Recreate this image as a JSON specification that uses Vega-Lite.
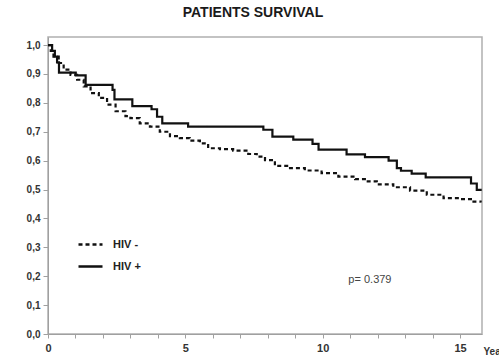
{
  "$schema": "https://vega.github.io/schema/vega-lite/v6.json",
  "width": 434,
  "height": 297,
  "autosize": "none",
  "padding": {"left": 48, "top": 37, "right": 17, "bottom": 24},
  "background": "white",
  "title": {"text": "PATIENTS SURVIVAL", "fontSize": 14, "font": "Liberation Sans", "fontWeight": "bold", "color": "#1a1a1a", "anchor": "middle", "dx": -12, "offset": 17},
  "config": {
    "view": {"stroke": "#b0b0b0", "strokeWidth": 1.5},
    "axis": {"grid": false, "domainColor": "#a0a0a0", "tickColor": "#a0a0a0", "labelFont": "Liberation Sans", "labelFontWeight": "bold", "labelColor": "#333333", "labelFontSize": 10, "labelOverlap": false}
  },
  "datasets": {
    "km": [
      {"group": "HIV +", "t": 0, "s": 1.0},
      {"group": "HIV +", "t": 0.15, "s": 0.98},
      {"group": "HIV +", "t": 0.25, "s": 0.96},
      {"group": "HIV +", "t": 0.33, "s": 0.94},
      {"group": "HIV +", "t": 0.4, "s": 0.905},
      {"group": "HIV +", "t": 1.01, "s": 0.895},
      {"group": "HIV +", "t": 1.37, "s": 0.862},
      {"group": "HIV +", "t": 2.35, "s": 0.845},
      {"group": "HIV +", "t": 2.42, "s": 0.812},
      {"group": "HIV +", "t": 3.07, "s": 0.789},
      {"group": "HIV +", "t": 3.77, "s": 0.778},
      {"group": "HIV +", "t": 3.97, "s": 0.752},
      {"group": "HIV +", "t": 4.16, "s": 0.729},
      {"group": "HIV +", "t": 5.1, "s": 0.718},
      {"group": "HIV +", "t": 7.84, "s": 0.707},
      {"group": "HIV +", "t": 8.17, "s": 0.683},
      {"group": "HIV +", "t": 8.93, "s": 0.673},
      {"group": "HIV +", "t": 9.63, "s": 0.658},
      {"group": "HIV +", "t": 9.85, "s": 0.638},
      {"group": "HIV +", "t": 10.87, "s": 0.622},
      {"group": "HIV +", "t": 11.54, "s": 0.612},
      {"group": "HIV +", "t": 12.4, "s": 0.6},
      {"group": "HIV +", "t": 12.7, "s": 0.574},
      {"group": "HIV +", "t": 12.85, "s": 0.565},
      {"group": "HIV +", "t": 13.24, "s": 0.555},
      {"group": "HIV +", "t": 13.75, "s": 0.542},
      {"group": "HIV +", "t": 15.4, "s": 0.521},
      {"group": "HIV +", "t": 15.61, "s": 0.499},
      {"group": "HIV +", "t": 15.79, "s": 0.499},
      {"group": "HIV -", "t": 0, "s": 1.0},
      {"group": "HIV -", "t": 0.1, "s": 0.98},
      {"group": "HIV -", "t": 0.2, "s": 0.96},
      {"group": "HIV -", "t": 0.39, "s": 0.938},
      {"group": "HIV -", "t": 0.57, "s": 0.915},
      {"group": "HIV -", "t": 0.82, "s": 0.897},
      {"group": "HIV -", "t": 1.06, "s": 0.88},
      {"group": "HIV -", "t": 1.3, "s": 0.857},
      {"group": "HIV -", "t": 1.55, "s": 0.834},
      {"group": "HIV -", "t": 1.85, "s": 0.817},
      {"group": "HIV -", "t": 2.15, "s": 0.794},
      {"group": "HIV -", "t": 2.46, "s": 0.771},
      {"group": "HIV -", "t": 2.82, "s": 0.754},
      {"group": "HIV -", "t": 3.0, "s": 0.747},
      {"group": "HIV -", "t": 3.34, "s": 0.729},
      {"group": "HIV -", "t": 3.71, "s": 0.718},
      {"group": "HIV -", "t": 4.07, "s": 0.7},
      {"group": "HIV -", "t": 4.44, "s": 0.685},
      {"group": "HIV -", "t": 4.8, "s": 0.678},
      {"group": "HIV -", "t": 5.16, "s": 0.669},
      {"group": "HIV -", "t": 5.53, "s": 0.66},
      {"group": "HIV -", "t": 5.83, "s": 0.643},
      {"group": "HIV -", "t": 6.26, "s": 0.64},
      {"group": "HIV -", "t": 6.74, "s": 0.635},
      {"group": "HIV -", "t": 7.29, "s": 0.623},
      {"group": "HIV -", "t": 7.6, "s": 0.614},
      {"group": "HIV -", "t": 7.9, "s": 0.602},
      {"group": "HIV -", "t": 8.26, "s": 0.582},
      {"group": "HIV -", "t": 8.75, "s": 0.574},
      {"group": "HIV -", "t": 9.35, "s": 0.566},
      {"group": "HIV -", "t": 9.96, "s": 0.557},
      {"group": "HIV -", "t": 10.57, "s": 0.545},
      {"group": "HIV -", "t": 11.18, "s": 0.536},
      {"group": "HIV -", "t": 11.6, "s": 0.528},
      {"group": "HIV -", "t": 11.97, "s": 0.518},
      {"group": "HIV -", "t": 12.57, "s": 0.508},
      {"group": "HIV -", "t": 13.18, "s": 0.496},
      {"group": "HIV -", "t": 13.79, "s": 0.482},
      {"group": "HIV -", "t": 14.4, "s": 0.47},
      {"group": "HIV -", "t": 15.0, "s": 0.467},
      {"group": "HIV -", "t": 15.49, "s": 0.458},
      {"group": "HIV -", "t": 15.75, "s": 0.455}
    ],
    "note": [{"t": 11.72, "s": 0.188, "label": "p= 0.379"}]
  },
  "encoding": {
    "x": {"field": "t", "type": "quantitative", "scale": {"domain": [0, 15.8], "nice": false, "zero": false},
      "axis": {"values": [0,1,2,3,4,5,6,7,8,9,10,11,12,13,14,15], "labelExpr": "datum.value % 5 == 0 ? datum.label : ''", "labelOverlap": false, "labelBound": false, "labelFlush": false, "labelFontSize": 11, "labelPadding": 4, "tickSize": 4,
        "title": "Years", "titleFont": "Liberation Sans", "titleFontSize": 10, "titleFontWeight": "bold", "titleColor": "#333333", "titleAlign": "left", "titleAnchor": "start", "titleX": 435, "titleY": 20, "titleBaseline": "alphabetic"}},
    "y": {"field": "s", "type": "quantitative", "scale": {"domain": [0, 1.028], "nice": false},
      "axis": {"values": [0,0.1,0.2,0.3,0.4,0.5,0.6,0.7,0.8,0.9,1.0], "labelExpr": "replace(format(datum.value, '.1f'), '.', ',')", "labelOverlap": false, "labelBound": false, "labelFlush": false, "tickSize": 5, "labelPadding": 3, "title": null}}
  },
  "layer": [
    {
      "data": {"name": "km"},
      "mark": {"type": "line", "interpolate": "step-after", "color": "#111111", "strokeWidth": 2.2},
      "encoding": {
        "strokeDash": {"field": "group", "type": "nominal",
          "scale": {"domain": ["HIV -", "HIV +"], "range": [[4, 3], [1, 0]]},
          "legend": {"title": null, "orient": "none", "legendX": 29, "legendY": 194, "symbolType": "stroke", "symbolSize": 576, "symbolStrokeWidth": 2.5, "symbolStrokeColor": "#111111", "labelFont": "Liberation Sans", "labelFontSize": 11, "labelFontWeight": "bold", "labelColor": "#222222", "labelOffset": 9, "rowPadding": 3, "padding": 0}}
      }
    },
    {
      "data": {"name": "note"},
      "mark": {"type": "text", "font": "Liberation Sans", "fontSize": 11, "color": "#444444", "align": "center", "baseline": "middle"},
      "encoding": {
        "text": {"field": "label"}
      }
    }
  ]
}
